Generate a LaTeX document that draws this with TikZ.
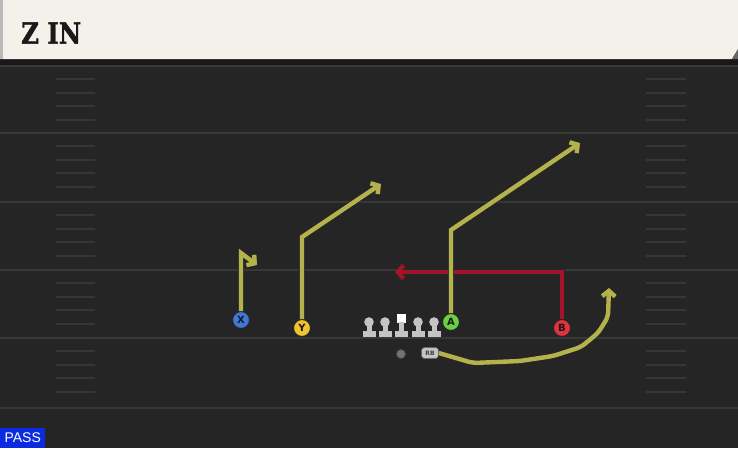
\documentclass[tikz,border=0pt]{standalone}
\usepackage{fontspec}
\setmainfont{DejaVu Sans}
\newfontfamily\titlefont[BoldFeatures={FakeBold=1.5}]{DejaVu Serif}
\newfontfamily\passfont{Liberation Sans}
\usetikzlibrary{arrows.meta}
\definecolor{field}{HTML}{252525}
\definecolor{header}{HTML}{F4F1EA}
\definecolor{yard}{HTML}{383838}
\definecolor{hash}{HTML}{363636}
\definecolor{routecol}{HTML}{B4B24C}
\definecolor{redroute}{HTML}{A3142B}
\definecolor{xblue}{HTML}{3F78D6}
\definecolor{yyellow}{HTML}{F0C232}
\definecolor{agreen}{HTML}{6CD043}
\definecolor{bred}{HTML}{E2323F}
\definecolor{lineman}{HTML}{C4C4C4}
\definecolor{passblue}{HTML}{0A2BE0}
\tikzset{
  player/.style={circle, draw=black!85, line width=1pt, minimum size=17pt, inner sep=0pt, text=black!90, font=\bfseries\fontsize{10}{10}\selectfont},
  routeout/.style={line width=6.2pt, draw=black!85, line join=miter, -{Straight Barb[length=5.5pt,width=13pt]}},
  routein/.style={line width=4.4pt, draw=routecol, line join=miter, -{Straight Barb[length=5.5pt,width=13pt]}},
  redout/.style={line width=6.2pt, draw=black!85, line join=miter, -{Straight Barb[length=5.5pt,width=13pt]}},
  redin/.style={line width=4.4pt, draw=redroute, line join=miter, -{Straight Barb[length=5.5pt,width=13pt]}},
  yardline/.style={draw=yard, line width=1.6pt},
  hashmark/.style={draw=hash, line width=1.3pt},
}
\begin{document}
\begin{tikzpicture}[x=1pt,y=-1pt]
\fill[field] (0,0) rectangle (738,448);
\useasboundingbox (0,0) rectangle (738,448);
% yard lines
\foreach \yy in {66,133,202,270,338,408} {
  \draw[yardline] (0,\yy) -- (738,\yy);
}
% hash marks
\foreach \yy in {66,133,202,270,338} {
  \foreach \dd in {13,27,40,54} {
    \draw[hashmark] (56,\yy+\dd) -- (95,\yy+\dd);
    \draw[hashmark] (646,\yy+\dd) -- (686,\yy+\dd);
  }
}
% header
\fill[black!90] (0,58) rectangle (738,65);
\fill[header] (0,0) -- (738,0) -- (738,49) -- (732,59) -- (0,59) -- cycle;
\fill[black!60] (732,59) -- (738,49) -- (738,59) -- cycle;
\fill[gray!55] (0,0) rectangle (3,59);
\node[anchor=west, inner sep=0pt, text=black!90] (title) at (21,33) {\scalebox{0.84}[1]{\titlefont\bfseries\fontsize{29}{29}\selectfont Z IN}};

% players
\node[player, fill=xblue] (X) at (241,320) {X};
\node[player, fill=yyellow] (Y) at (302,328) {Y};
\node[player, fill=agreen] (A) at (451,322) {A};
\node[player, fill=bred] (B) at (562,328) {B};

% offensive line
\foreach \xx in {369,385,418,434} {
  \fill[lineman] (\xx,322) circle (4.8);
  \fill[lineman] (\xx-2.5,322) rectangle (\xx+2.5,333);
  \fill[lineman] (\xx-6.5,331) rectangle (\xx+6.5,336.5);
}
\fill[white] (396.5,313.5) rectangle (405.5,322.5);
\fill[lineman] (398.5,322) rectangle (403.5,333);
\fill[lineman] (394.5,331) rectangle (407.5,336.5);
\node[coordinate] (C) at (401,325) {};

% QB
\node[circle, fill=black!55, draw=black!70, line width=0.8pt, minimum size=9pt, inner sep=0pt] (QB) at (401,354) {};
% RB
\node[rounded corners=3pt, fill=lineman, draw=black!60, line width=0.6pt, minimum width=17pt, minimum height=11pt, inner sep=0pt, font=\bfseries\fontsize{6}{6}\selectfont, text=black!75] (RB) at (430,353) {RB};

% coordinates
\coordinate (x1) at (241,253);
\coordinate (x2) at (257,265);
\coordinate (y1) at (302,237);
\coordinate (y2) at (381,184);
\coordinate (a1) at (451,230);
\coordinate (a2) at (580,143);
\coordinate (b1) at (562,272);
\coordinate (b2) at (395,272);
\coordinate (r1) at (473,363);
\coordinate (r2) at (520,361);
\coordinate (r3) at (553,356);
\coordinate (r4) at (581,347);
\coordinate (r5) at (598,333);
\coordinate (r6) at (608,317);
\coordinate (r7) at (609,288);

% routes
\draw[routeout] (X) -- (x1) -- (x2);
\draw[routein] (X) -- (x1) -- (x2);
\draw[routeout] (Y) -- (y1) -- (y2);
\draw[routein] (Y) -- (y1) -- (y2);
\draw[redout] (B) -- (b1) -- (b2);
\draw[redin] (B) -- (b1) -- (b2);
\draw[routeout] (A) -- (a1) -- (a2);
\draw[routein] (A) -- (a1) -- (a2);
\draw[routeout, rounded corners=5pt] (RB.east) -- (r1) -- (r2) -- (r3) -- (r4) -- (r5) -- (r6) -- (r7);
\draw[routein, rounded corners=5pt] (RB.east) -- (r1) -- (r2) -- (r3) -- (r4) -- (r5) -- (r6) -- (r7);

% PASS label
\node[fill=passblue, anchor=south west, minimum width=45pt, minimum height=20pt, inner sep=0pt, text=white, font=\passfont\fontsize{14}{14}\selectfont] (pass) at (0,448) {PASS};
\end{tikzpicture}
\end{document}
